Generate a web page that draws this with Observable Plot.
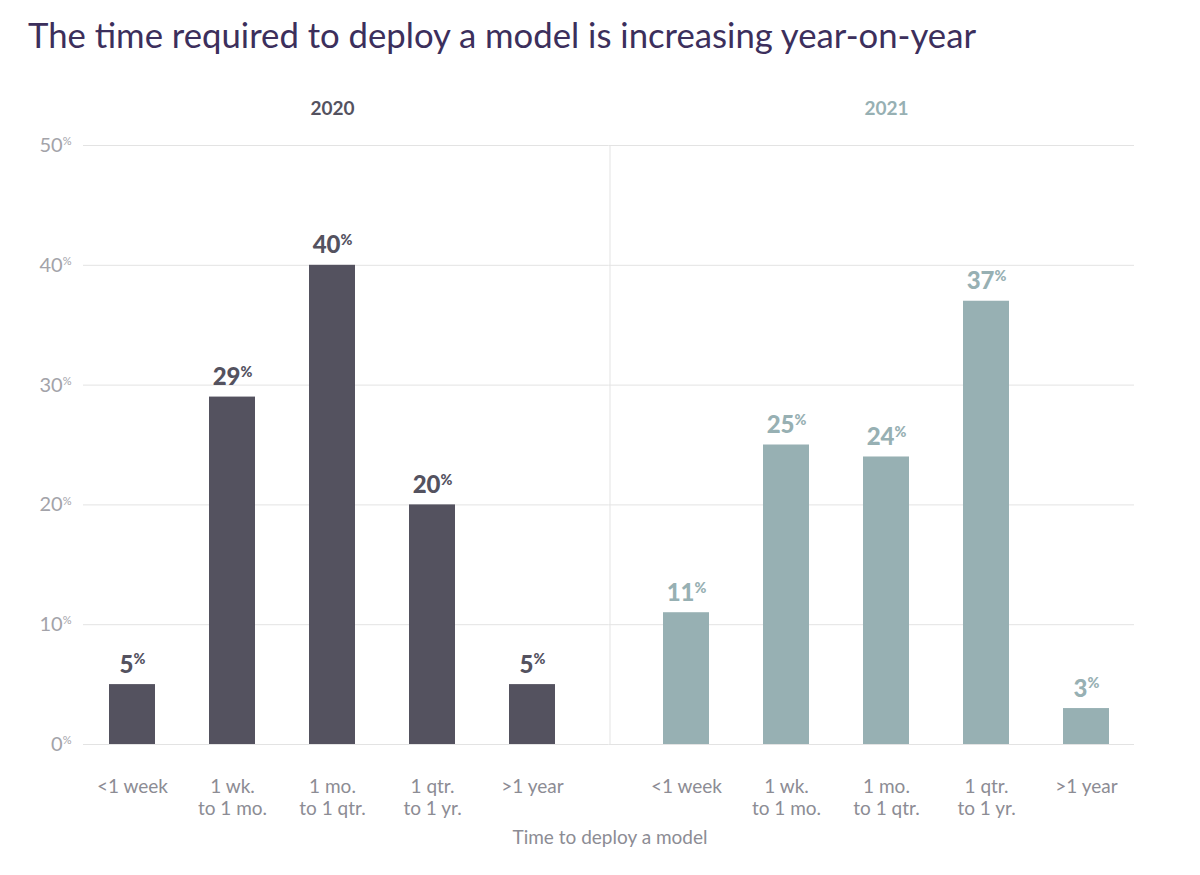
<!DOCTYPE html>
<html><head><meta charset="utf-8">
<script src="https://cdn.jsdelivr.net/npm/d3@7"></script>
<script src="https://cdn.jsdelivr.net/npm/@observablehq/plot@0.6"></script>
<style>
body{margin:0;background:#fff;font-family:Lato,sans-serif;}
#title{height:80px;box-sizing:border-box;padding:15px 0 0 28px;font-size:34.7px;color:#3c2f5c;line-height:40px;white-space:nowrap;}
#chart svg{display:block;}
</style></head><body>
<div id="title">The time required to deploy a model is increasing year-on-year</div>
<div id="chart"></div>
<script>
const years = ["2020", "2021"];
const categories = ["<1 week", "1 wk.\nto 1 mo.", "1 mo.\nto 1 qtr.", "1 qtr.\nto 1 yr.", ">1 year"];
const values2020 = [5, 29, 40, 20, 5];
const values2021 = [11, 25, 24, 37, 3];
const yTicks = [0, 10, 20, 30, 40, 50];
const barColors = ["#54525f", "#97b0b3"];
const xLabel = "Time to deploy a model";

const data = [values2020, values2021].flatMap((vals, i) =>
  vals.map((v, j) => ({year: years[i], category: categories[j], value: v})));
const grid = years.flatMap(y => yTicks.map(t => ({year: y, t})));
const facetLabels = years.map(y => ({year: y, category: categories[2]}));
const divider = [{year: years[1], category: categories[0]}];
const gridColor = "#e3e3e3";

const plot = Plot.plot({
  width: 1200, height: 795,
  marginTop: 65, marginBottom: 131, marginLeft: 82, marginRight: 65,
  style: {fontFamily: "Lato, sans-serif", background: "#fff"},
  fx: {domain: years, paddingInner: 0.1027, paddingOuter: 0, axis: null, label: null},
  x: {domain: categories, paddingInner: 0.54, paddingOuter: 0.2476, label: null},
  y: {domain: [0, 50], label: null},
  color: {domain: years, range: barColors},
  marks: [
    Plot.ruleY(grid.filter(d => d.year === years[0]), {fx: "year", y: "t", stroke: gridColor, insetRight: -28.5}),
    Plot.ruleY(grid.filter(d => d.year === years[1]), {fx: "year", y: "t", stroke: gridColor, insetLeft: -28.5}),
    Plot.ruleX(divider, {fx: "year", x: "category", dx: -76.5, stroke: gridColor}),
    Plot.axisY(yTicks, {tickSize: 0, tickPadding: 12, tickFormat: d => d + "%", fontSize: 20, color: "#a3a3a9", label: null}),
    Plot.axisX({tickSize: 0, tickPadding: 33, fontSize: 19, color: "#8c8c94", lineHeight: 1.16, label: null}),
    Plot.barY(data, {fx: "year", x: "category", y: "value", fill: "year"}),
    Plot.text(data, {fx: "year", x: "category", y: "value", text: d => d.value + "%", dy: -12, lineAnchor: "bottom", fill: "year", fontSize: 24, fontWeight: 900}),
    Plot.text(facetLabels, {fx: "year", x: "category", text: "year", frameAnchor: "top", lineAnchor: "bottom", dy: -31, fill: "year", fontSize: 19, fontWeight: 700}),
    Plot.text(divider, {fx: "year", x: "category", text: () => xLabel, frameAnchor: "bottom", lineAnchor: "bottom", dx: -76.5, dy: 99, fill: "#8c8c94", fontSize: 19})
  ]
});
document.getElementById("chart").appendChild(plot);

// superscript the % signs
d3.select(plot).selectAll("text").each(function() {
  const el = this;
  if (el.children.length) return;
  const m = /^(\d+)%$/.exec(el.textContent);
  if (!m) return;
  const fs = parseFloat(getComputedStyle(el).fontSize);
  const big = fs > 21;
  el.textContent = m[1];
  const t = document.createElementNS("http://www.w3.org/2000/svg", "tspan");
  t.setAttribute("font-size", (fs * (big ? 0.6 : 0.55)).toFixed(1) + "px");
  t.setAttribute("dy", (-fs * 0.34).toFixed(1) + "px");
  t.textContent = "%";
  el.appendChild(t);
});
</script>
</body></html>
